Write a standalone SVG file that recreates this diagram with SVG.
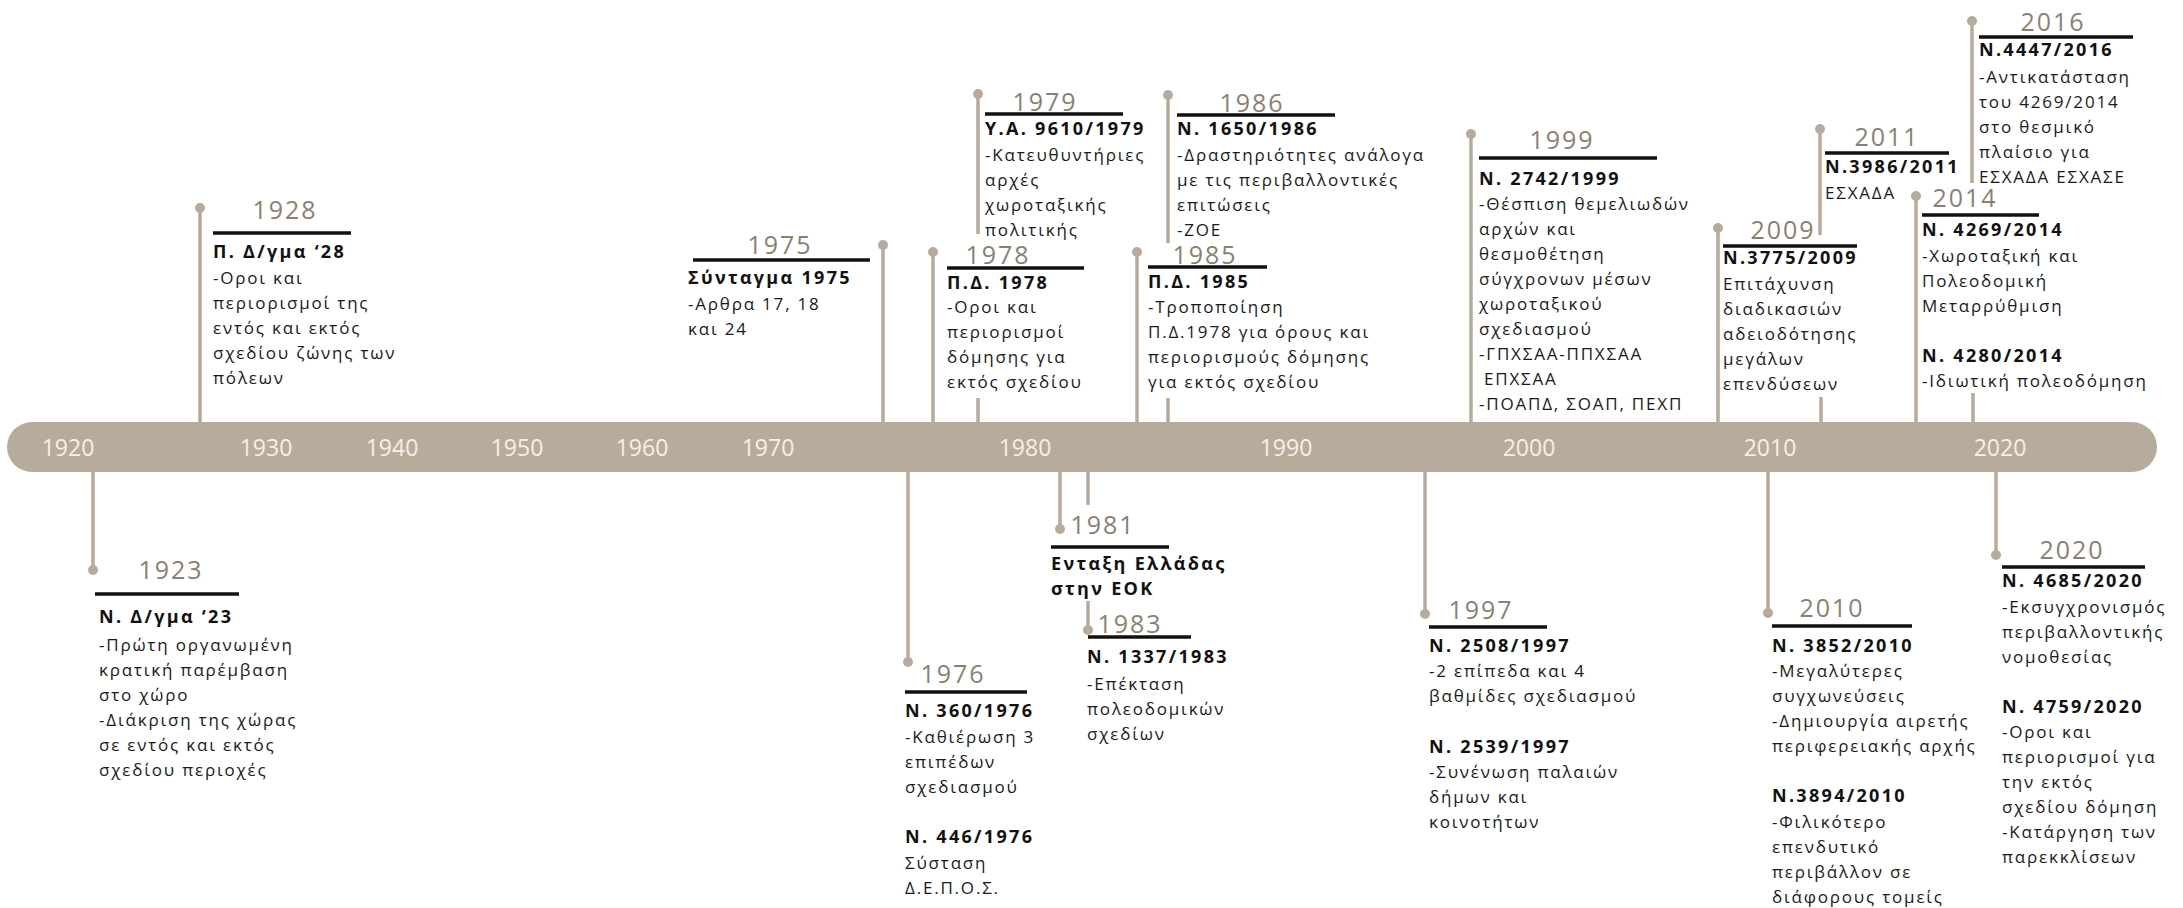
<svg xmlns="http://www.w3.org/2000/svg" width="2183" height="908" viewBox="0 0 2183 908">
<style>
.bar{fill:#b9ab9b}
.ax{font-family:"Open Sans","Noto Sans",sans-serif;font-size:23px;fill:#f4f0ea;text-anchor:middle}
.yr{font-family:"Open Sans","Noto Sans",sans-serif;font-size:25px;fill:#8c7f72;text-anchor:middle;letter-spacing:2px}
.ul{stroke:#111;stroke-width:3.5}
.tt{font-family:"Open Sans","Noto Sans",sans-serif;font-size:18px;font-weight:bold;fill:#111;letter-spacing:2.3px}
.bd{font-family:"Open Sans","Noto Sans",sans-serif;font-size:17px;fill:#1a1a1a;letter-spacing:1.8px}
.cn{stroke:#b9ab9b;stroke-width:3.5;fill:none}
.dt{fill:#b9ab9b}
</style>
<rect class="bar" x="7" y="422" width="2150" height="50" rx="25" ry="25"/>
<g id="axis">
<text class="ax" x="68" y="456">1920</text>
<text class="ax" x="266" y="456">1930</text>
<text class="ax" x="392" y="456">1940</text>
<text class="ax" x="517" y="456">1950</text>
<text class="ax" x="642" y="456">1960</text>
<text class="ax" x="768" y="456">1970</text>
<text class="ax" x="1025" y="456">1980</text>
<text class="ax" x="1286" y="456">1990</text>
<text class="ax" x="1529" y="456">2000</text>
<text class="ax" x="1770" y="456">2010</text>
<text class="ax" x="2000" y="456">2020</text>
</g>
<g id="connectors">
<path class="cn" d="M93 472V570M200 208V422M883 245V422M908 472V662M933 252V422M978 94V234M978 398V422M1060 472V529M1088 472V505M1088 601V630M1137 252V422M1168 95V243M1168 398V422M1425 472V614M1471 134V422M1718 228V422M1768 472V613M1820 129V235M1821 397V422M1916 196V422M1972 21V183M1973 393V422M1996 472V555"/>
<circle class="dt" cx="93" cy="570" r="5"/>
<circle class="dt" cx="200" cy="208" r="5"/>
<circle class="dt" cx="883" cy="245" r="5"/>
<circle class="dt" cx="908" cy="662" r="5"/>
<circle class="dt" cx="933" cy="252" r="5"/>
<circle class="dt" cx="978" cy="94" r="5"/>
<circle class="dt" cx="1060" cy="529" r="5"/>
<circle class="dt" cx="1088" cy="630" r="5"/>
<circle class="dt" cx="1137" cy="252" r="5"/>
<circle class="dt" cx="1168" cy="95" r="5"/>
<circle class="dt" cx="1425" cy="614" r="5"/>
<circle class="dt" cx="1471" cy="134" r="5"/>
<circle class="dt" cx="1718" cy="228" r="5"/>
<circle class="dt" cx="1768" cy="613" r="5"/>
<circle class="dt" cx="1820" cy="129" r="5"/>
<circle class="dt" cx="1916" cy="196" r="5"/>
<circle class="dt" cx="1972" cy="21" r="5"/>
<circle class="dt" cx="1996" cy="555" r="5"/>
</g>
<g id="e1923">
<text class="yr" x="171" y="579">1923</text>
<line class="ul" x1="95" y1="594" x2="239" y2="594"/>
<text class="tt" x="99" y="623">Ν. Δ/γμα  ‘23</text>
<text class="bd" x="99" y="651"><tspan x="99">-Πρώτη οργανωμένη</tspan><tspan x="99" dy="25">κρατική παρέμβαση</tspan><tspan x="99" dy="25">στο χώρο</tspan><tspan x="99" dy="25">-Διάκριση της χώρας</tspan><tspan x="99" dy="25">σε εντός και εκτός</tspan><tspan x="99" dy="25">σχεδίου περιοχές</tspan></text>
</g>
<g id="e1928">
<text class="yr" x="285" y="219">1928</text>
<line class="ul" x1="213" y1="233" x2="351" y2="233"/>
<text class="tt" x="213" y="258">Π. Δ/γμα ‘28</text>
<text class="bd" x="213" y="284"><tspan x="213">-Οροι και</tspan><tspan x="213" dy="25">περιορισμοί της</tspan><tspan x="213" dy="25">εντός και εκτός</tspan><tspan x="213" dy="25">σχεδίου ζώνης των</tspan><tspan x="213" dy="25">πόλεων</tspan></text>
</g>
<g id="e1975">
<text class="yr" x="780" y="254">1975</text>
<line class="ul" x1="693" y1="260" x2="870" y2="260"/>
<text class="tt" x="688" y="284">Σύνταγμα 1975</text>
<text class="bd" x="688" y="310"><tspan x="688">-Αρθρα 17, 18</tspan><tspan x="688" dy="25">και 24</tspan></text>
</g>
<g id="e1976">
<text class="yr" x="953" y="683">1976</text>
<line class="ul" x1="905" y1="692" x2="1027" y2="692"/>
<text class="tt" x="905" y="717">Ν. 360/1976</text>
<text class="bd" x="905" y="743"><tspan x="905">-Καθιέρωση 3</tspan><tspan x="905" dy="25">επιπέδων</tspan><tspan x="905" dy="25">σχεδιασμού</tspan></text>
<text class="tt" x="905" y="843">Ν. 446/1976</text>
<text class="bd" x="905" y="869"><tspan x="905">Σύσταση</tspan><tspan x="905" dy="25">Δ.Ε.Π.Ο.Σ.</tspan></text>
</g>
<g id="e1978">
<text class="yr" x="998" y="264">1978</text>
<line class="ul" x1="947" y1="268" x2="1084" y2="268"/>
<text class="tt" x="947" y="289">Π.Δ. 1978</text>
<text class="bd" x="947" y="313"><tspan x="947">-Οροι και</tspan><tspan x="947" dy="25">περιορισμοί</tspan><tspan x="947" dy="25">δόμησης για</tspan><tspan x="947" dy="25">εκτός σχεδίου</tspan></text>
</g>
<g id="e1979">
<text class="yr" x="1045" y="111">1979</text>
<line class="ul" x1="985" y1="114" x2="1123" y2="114"/>
<text class="tt" x="985" y="135">Υ.Α. 9610/1979</text>
<text class="bd" x="985" y="161"><tspan x="985">-Κατευθυντήριες</tspan><tspan x="985" dy="25">αρχές</tspan><tspan x="985" dy="25">χωροταξικής</tspan><tspan x="985" dy="25">πολιτικής</tspan></text>
</g>
<g id="e1981">
<text class="yr" x="1103" y="534">1981</text>
<line class="ul" x1="1051" y1="547" x2="1169" y2="547"/>
<text class="tt" x="1051" y="570"><tspan x="1051">Ενταξη Ελλάδας</tspan><tspan x="1051" dy="25">στην ΕΟΚ</tspan></text>
</g>
<g id="e1983">
<text class="yr" x="1130" y="633">1983</text>
<line class="ul" x1="1088" y1="637" x2="1191" y2="637"/>
<text class="tt" x="1087" y="663">Ν. 1337/1983</text>
<text class="bd" x="1087" y="690"><tspan x="1087">-Επέκταση</tspan><tspan x="1087" dy="25">πολεοδομικών</tspan><tspan x="1087" dy="25">σχεδίων</tspan></text>
</g>
<g id="e1985">
<text class="yr" x="1205" y="264">1985</text>
<line class="ul" x1="1148" y1="267" x2="1267" y2="267"/>
<text class="tt" x="1148" y="288">Π.Δ. 1985</text>
<text class="bd" x="1148" y="313"><tspan x="1148">-Τροποποίηση</tspan><tspan x="1148" dy="25">Π.Δ.1978 για όρους και</tspan><tspan x="1148" dy="25">περιορισμούς δόμησης</tspan><tspan x="1148" dy="25">για εκτός σχεδίου</tspan></text>
</g>
<g id="e1986">
<text class="yr" x="1252" y="112">1986</text>
<line class="ul" x1="1177" y1="115" x2="1335" y2="115"/>
<text class="tt" x="1177" y="135">Ν. 1650/1986</text>
<text class="bd" x="1177" y="161"><tspan x="1177">-Δραστηριότητες ανάλογα</tspan><tspan x="1177" dy="25">με τις περιβαλλοντικές</tspan><tspan x="1177" dy="25">επιτώσεις</tspan><tspan x="1177" dy="25">-ΖΟΕ</tspan></text>
</g>
<g id="e1997">
<text class="yr" x="1481" y="619">1997</text>
<line class="ul" x1="1429" y1="627" x2="1547" y2="627"/>
<text class="tt" x="1429" y="652">Ν. 2508/1997</text>
<text class="bd" x="1429" y="677"><tspan x="1429">-2 επίπεδα και 4</tspan><tspan x="1429" dy="25">βαθμίδες σχεδιασμού</tspan></text>
<text class="tt" x="1429" y="753">Ν. 2539/1997</text>
<text class="bd" x="1429" y="778"><tspan x="1429">-Συνένωση παλαιών</tspan><tspan x="1429" dy="25">δήμων και</tspan><tspan x="1429" dy="25">κοινοτήτων</tspan></text>
</g>
<g id="e1999">
<text class="yr" x="1562" y="149">1999</text>
<line class="ul" x1="1479" y1="158" x2="1657" y2="158"/>
<text class="tt" x="1479" y="185">Ν. 2742/1999</text>
<text class="bd" x="1479" y="210"><tspan x="1479">-Θέσπιση θεμελιωδών</tspan><tspan x="1479" dy="25">αρχών και</tspan><tspan x="1479" dy="25">θεσμοθέτηση</tspan><tspan x="1479" dy="25">σύγχρονων μέσων</tspan><tspan x="1479" dy="25">χωροταξικού</tspan><tspan x="1479" dy="25">σχεδιασμού</tspan><tspan x="1479" dy="25">-ΓΠΧΣΑΑ-ΠΠΧΣΑΑ</tspan><tspan x="1484" dy="25">ΕΠΧΣΑΑ</tspan><tspan x="1479" dy="25">-ΠΟΑΠΔ, ΣΟΑΠ, ΠΕΧΠ</tspan></text>
</g>
<g id="e2009">
<text class="yr" x="1783" y="239">2009</text>
<line class="ul" x1="1723" y1="246" x2="1857" y2="246"/>
<text class="tt" x="1723" y="264">Ν.3775/2009</text>
<text class="bd" x="1723" y="290"><tspan x="1723">Επιτάχυνση</tspan><tspan x="1723" dy="25">διαδικασιών</tspan><tspan x="1723" dy="25">αδειοδότησης</tspan><tspan x="1723" dy="25">μεγάλων</tspan><tspan x="1723" dy="25">επενδύσεων</tspan></text>
</g>
<g id="e2010">
<text class="yr" x="1832" y="617">2010</text>
<line class="ul" x1="1772" y1="626" x2="1912" y2="626"/>
<text class="tt" x="1772" y="652">Ν. 3852/2010</text>
<text class="bd" x="1772" y="677"><tspan x="1772">-Μεγαλύτερες</tspan><tspan x="1772" dy="25">συγχωνεύσεις</tspan><tspan x="1772" dy="25">-Δημιουργία αιρετής</tspan><tspan x="1772" dy="25">περιφερειακής αρχής</tspan></text>
<text class="tt" x="1772" y="802">Ν.3894/2010</text>
<text class="bd" x="1772" y="828"><tspan x="1772">-Φιλικότερο</tspan><tspan x="1772" dy="25">επενδυτικό</tspan><tspan x="1772" dy="25">περιβάλλον σε</tspan><tspan x="1772" dy="25">διάφορους τομείς</tspan></text>
</g>
<g id="e2011">
<text class="yr" x="1887" y="146">2011</text>
<line class="ul" x1="1825" y1="153" x2="1949" y2="153"/>
<text class="tt" x="1825" y="173">Ν.3986/2011</text>
<text class="bd" x="1825" y="199">ΕΣΧΑΔΑ</text>
</g>
<g id="e2014">
<text class="yr" x="1965" y="207">2014</text>
<line class="ul" x1="1922" y1="215" x2="2039" y2="215"/>
<text class="tt" x="1922" y="236">Ν. 4269/2014</text>
<text class="bd" x="1922" y="262"><tspan x="1922">-Χωροταξική και</tspan><tspan x="1922" dy="25">Πολεοδομική</tspan><tspan x="1922" dy="25">Μεταρρύθμιση</tspan></text>
<text class="tt" x="1922" y="362">Ν. 4280/2014</text>
<text class="bd" x="1922" y="387">-Ιδιωτική πολεοδόμηση</text>
</g>
<g id="e2016">
<text class="yr" x="2053" y="31">2016</text>
<line class="ul" x1="1979" y1="37" x2="2133" y2="37"/>
<text class="tt" x="1979" y="56">Ν.4447/2016</text>
<text class="bd" x="1979" y="83"><tspan x="1979">-Αντικατάσταση</tspan><tspan x="1979" dy="25">του 4269/2014</tspan><tspan x="1979" dy="25">στο θεσμικό</tspan><tspan x="1979" dy="25">πλαίσιο για</tspan><tspan x="1979" dy="25">ΕΣΧΑΔΑ ΕΣΧΑΣΕ</tspan></text>
</g>
<g id="e2020">
<text class="yr" x="2072" y="559">2020</text>
<line class="ul" x1="2002" y1="567" x2="2145" y2="567"/>
<text class="tt" x="2002" y="587">Ν. 4685/2020</text>
<text class="bd" x="2002" y="613"><tspan x="2002">-Εκσυγχρονισμός</tspan><tspan x="2002" dy="25">περιβαλλοντικής</tspan><tspan x="2002" dy="25">νομοθεσίας</tspan></text>
<text class="tt" x="2002" y="713">Ν. 4759/2020</text>
<text class="bd" x="2002" y="738"><tspan x="2002">-Οροι και</tspan><tspan x="2002" dy="25">περιορισμοί για</tspan><tspan x="2002" dy="25">την εκτός</tspan><tspan x="2002" dy="25">σχεδίου δόμηση</tspan><tspan x="2002" dy="25">-Κατάργηση των</tspan><tspan x="2002" dy="25">παρεκκλίσεων</tspan></text>
</g>
</svg>
